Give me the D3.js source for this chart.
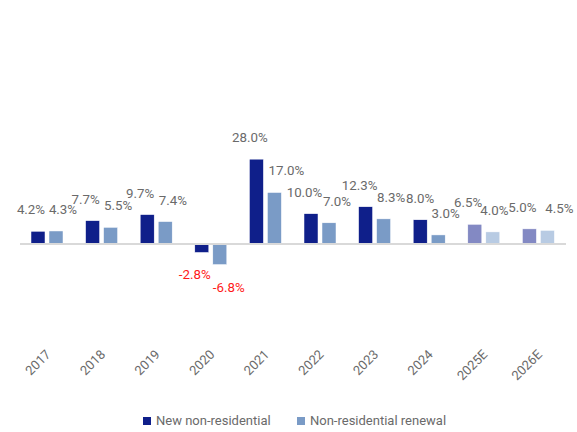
<!DOCTYPE html>
<html><head><meta charset="utf-8">
<script src="https://cdn.jsdelivr.net/npm/d3@7"></script>
<style>body{margin:0;background:#fff}svg{display:block;font-family:Roboto,"Liberation Sans",sans-serif}</style>
</head><body>
<svg id="c" width="577" height="432"></svg>
<script>
const categories = ["2017","2018","2019","2020","2021","2022","2023","2024","2025E","2026E"];
const seriesNames = ["New non-residential","Non-residential renewal"];
const newNonRes = [4.2,7.7,9.7,-2.8,28.0,10.0,12.3,8.0,6.5,5.0];
const renewal = [4.3,5.5,7.4,-6.8,17.0,7.0,8.3,3.0,4.0,4.5];
const forecast = [false,false,false,false,false,false,false,false,true,true];
const colors = ["#0f1f8a","#7a9bc6"];
const forecastColors = ["#8389c3","#b8cbe3"];
// horizontal nudges of the value labels (as placed in the original chart)
const labelNudgeNew = [-7,-7,-7,-7,-6.5,-6.5,-6,0,-6.7,-7];
const labelNudgeRenewal = [7,7.5,7.7,9,12,8,7.5,7.5,1.5,12];

const svg = d3.select("#c");
const x0 = d3.scaleBand().domain(categories).range([20,566]).padding(0);
const x1 = d3.scaleBand().domain([0,1]).range([11,43]).paddingInner(0.222).paddingOuter(0);
const y = d3.scaleLinear().domain([-10,30]).range([274.3,153.1]);

const data = categories.map((c,i)=>({c,i,vals:[newNonRes[i],renewal[i]],f:forecast[i]}));

const g = svg.append("g");
data.forEach(d=>{
  d.vals.forEach((v,k)=>{
    const bx = x0(d.c)+x1(k);
    g.append("rect")
      .attr("x",bx).attr("width",x1.bandwidth())
      .attr("y",y(Math.max(0,v))).attr("height",Math.abs(y(v)-y(0)))
      .attr("fill",d.f?forecastColors[k]:colors[k])
      .attr("stroke","#fff").attr("stroke-width",0.5);
    const cx = bx + x1.bandwidth()/2 + (k===0?labelNudgeNew[d.i]:labelNudgeRenewal[d.i]);
    g.append("text")
      .attr("x",cx)
      .attr("y", v>=0 ? y(v)-17 : y(v)+27)
      .attr("text-anchor","middle")
      .attr("font-size",13.3)
      .attr("fill", v<0 ? "#ff1a1a" : "#6a6a6a")
      .text(v.toFixed(1)+"%");
  });
});

// baseline
svg.append("line").attr("x1",20).attr("x2",566).attr("y1",y(0)).attr("y2",y(0))
  .attr("stroke","#d9d9d9").attr("stroke-width",2);

// x axis labels
const xAxis = d3.axisBottom(x0).tickSize(0).tickPadding(0);
const ax = svg.append("g").attr("transform","translate(1,352)").call(xAxis);
ax.select(".domain").remove();
ax.selectAll("text")
  .attr("font-size",13).attr("fill","#6a6a6a").attr("font-family","Roboto, sans-serif")
  .attr("text-anchor","end").attr("dy","0.35em")
  .attr("transform","rotate(-45)");

// legend
const leg = svg.append("g");
const legX = [143,297];
seriesNames.forEach((n,k)=>{
  leg.append("rect").attr("x",legX[k]).attr("y",417).attr("width",8).attr("height",8).attr("fill",colors[k]);
  leg.append("text").attr("x",legX[k]+13).attr("y",425).attr("font-size",13).attr("fill","#6a6a6a").text(n);
});
</script>
</body></html>
